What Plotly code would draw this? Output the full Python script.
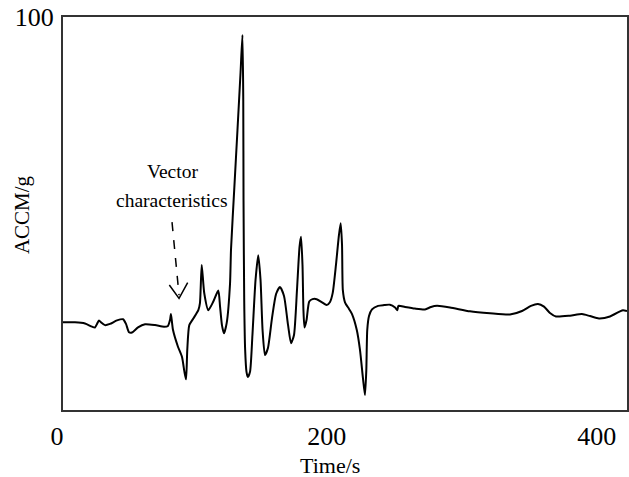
import plotly.graph_objects as go

# Time (s) and ACCM (g)
time_s = [0, 8.9, 16.3, 21.5, 23.7, 25.2, 26.7, 28.2, 31.1, 34.8, 40.0, 44.5, 46.7, 48.9, 51.1,
          55.6, 60.8, 68.2, 74.9, 77.8, 79.3, 80.0, 81.5, 85.2, 88.2, 90.0, 91.2, 92.1, 93.6,
          96.6, 100.3, 101.5, 102.8, 104.7, 107.7, 111.4, 115.1, 116.4, 117.8, 119.3, 121.3,
          123.8, 124.5, 127.0, 129.3, 131.6, 133.0, 133.6, 133.8, 134.3, 135.0, 136.0, 137.0,
          138.6, 140.4, 142.7, 144.7, 146.4, 147.9, 149.7, 151.9, 154.9, 157.9, 160.8, 163.8,
          166.8, 169.0, 171.2, 173.4, 175.3, 176.4, 177.5, 178.2, 179.0, 180.5, 182.5, 184.9,
          188.0, 192.0, 195.4, 197.9, 199.9, 202.3, 204.5, 205.8, 206.8, 207.4, 209.0, 212.0,
          214.2, 217.7, 220.1, 222.3, 223.8, 224.8, 225.5, 226.8, 229.0, 233.5, 237.9, 242.3,
          246.1, 247.8, 248.6, 253.5, 260.9, 268.3, 272.7, 277.2, 286.8, 301.6, 316.5, 331.3,
          340.2, 346.8, 352.0, 356.5, 360.9, 365.4, 375.8, 384.6, 390.6, 397.2, 405.4, 412.8,
          415.0, 418.0]
accm_g = [22.3, 22.3, 22.0, 21.2, 21.0, 21.9, 22.8, 22.3, 21.6, 21.9, 22.8, 23.1, 21.9, 19.8, 19.7,
          21.0, 21.8, 21.6, 21.2, 21.4, 22.9, 24.4, 20.4, 16.1, 13.5, 9.7, 7.8, 15.3, 21.6,
          23.3, 25.4, 27.2, 36.9, 29.7, 25.4, 27.6, 30.4, 26.3, 21.6, 19.5, 22.1,
          32.2, 40.7, 56.7, 71.2, 86.0, 95.4, 78.9, 53.4, 28.0, 15.3, 9.7, 8.4,
          9.7, 19.1, 33.1, 39.4, 33.1, 20.4, 14.0, 15.8, 23.4, 29.5, 31.3, 29.0,
          21.6, 17.0, 19.1, 30.5, 41.5, 44.1, 36.9, 25.4, 21.0, 22.9, 27.6, 28.2,
          28.2, 27.4, 26.7, 27.5, 29.8, 36.9, 44.5, 47.5, 42.0, 30.5, 27.4, 25.7,
          24.4, 20.4, 15.3, 8.1, 3.8, 10.2, 20.4, 23.9, 25.6, 26.5, 26.7, 26.8,
          26.1, 25.4, 26.5, 26.2, 25.8, 25.6, 26.2, 26.5, 26.1, 25.1, 24.6, 24.3,
          25.2, 26.5, 27.0, 26.3, 24.7, 23.8, 24.0, 24.4, 23.9, 23.3, 23.8, 25.1,
          25.4, 25.2]

x_ticks = [0, 200, 400]
y_ticks = [100]

annotation_lines = ["Vector", "characteristics"]
annotation_x = 80.8
annotation_y = [60.6, 53.4]
x_title = "Time/s"
y_title = "ACCM/g"

FONT = "Liberation Serif, Times New Roman, serif"

fig = go.Figure()
fig.add_trace(go.Scatter(
    x=time_s, y=accm_g, mode="lines",
    line=dict(color="black", width=2, shape="spline", smoothing=0.6),
    hoverinfo="skip", showlegend=False,
))

# dashed arrow pointing to the vector characteristics
fig.add_shape(type="line", x0=80.8, y0=47.8, x1=86.0, y1=29.2,
              line=dict(color="black", width=1.5, dash="dash"))
fig.add_shape(type="path", path="M 78.8 31.8 L 86.0 28.4 L 92.4 32.4",
              line=dict(color="black", width=1.5))

for txt, ty in zip(annotation_lines, annotation_y):
    fig.add_annotation(x=annotation_x, y=ty, text=txt, showarrow=False,
                       font=dict(family=FONT, size=19.5, color="black"))

# axis titles
fig.add_annotation(xref="paper", yref="paper", x=0.473, y=0, yanchor="middle",
                   yshift=-55, text=x_title, showarrow=False,
                   font=dict(family=FONT, size=22, color="black"))
fig.add_annotation(xref="paper", yref="paper", x=0, y=0.496, xanchor="center",
                   xshift=-41, text=y_title, textangle=-90, showarrow=False,
                   font=dict(family=FONT, size=21, color="black"))

fig.update_layout(
    width=629, height=477,
    margin=dict(l=63, r=2, t=17, b=67),
    paper_bgcolor="white", plot_bgcolor="white",
    font=dict(family=FONT, color="black"),
    xaxis=dict(range=[0, 418], tickvals=x_ticks, ticks="", showgrid=False, zeroline=False,
               showline=True, linecolor="#333", linewidth=2, mirror=True, automargin=False,
               tickfont=dict(size=26, family=FONT), ticklabelstandoff=2, ticklabelshift=-6,
               ticklabeloverflow="allow"),
    yaxis=dict(range=[0, 100], tickvals=y_ticks, ticks="", showgrid=False, zeroline=False,
               showline=True, linecolor="#333", linewidth=2, mirror=True, automargin=False,
               tickfont=dict(size=26, family=FONT), ticklabelstandoff=2,
               ticklabeloverflow="allow"),
)

# remove the default page margin so the 629x477 figure fills the window exactly
fig.write_html("out.html", config={"displayModeBar": False},
               post_script="document.body.style.margin='0';document.body.style.overflow='hidden';")
